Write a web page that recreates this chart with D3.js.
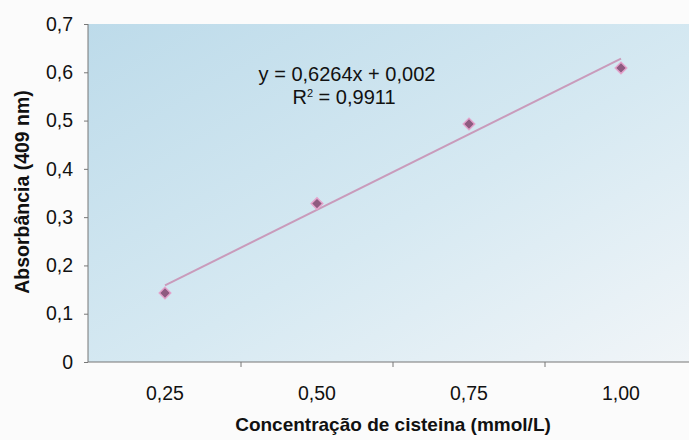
<!DOCTYPE html>
<html>
<head>
  <meta charset="utf-8">
  <script src="https://d3js.org/d3.v7.min.js"></script>
  <style>
    body { margin: 0; background: #fbfbfb; }
    text { font-family: "Liberation Sans", Arial, sans-serif; fill: #111; }
    .axis path, .axis line { stroke: #777; }
  </style>
</head>
<body>
  <svg id="canvas" width="689" height="440"></svg>
<script>
  const categories = ["0,25", "0,50", "0,75", "1,00"];
  const concentrations = [0.25, 0.50, 0.75, 1.00];
  const absorbance = [0.143, 0.328, 0.493, 0.609];
  const yTicks = [0, 0.1, 0.2, 0.3, 0.4, 0.5, 0.6, 0.7];
  const slope = 0.6264, intercept = 0.002;

  const svg = d3.select("svg");
  const plotLeft = 88, plotRight = 689, plotTop = 24, plotBottom = 362;

  const x = d3.scaleBand().domain(categories).range([89, 697]);
  const y = d3.scaleLinear().domain([0, 0.7]).range([plotBottom, plotTop]);

  // plot area gradient
  const grad = svg.append("defs").append("linearGradient")
    .attr("id", "bg").attr("x1", 0).attr("y1", 0).attr("x2", 1).attr("y2", 1);
  grad.append("stop").attr("offset", 0).attr("stop-color", "#bddbea");
  grad.append("stop").attr("offset", 0.55).attr("stop-color", "#d6e9f2");
  grad.append("stop").attr("offset", 1).attr("stop-color", "#f1f5f8");

  svg.append("rect")
    .attr("x", plotLeft).attr("y", plotTop)
    .attr("width", plotRight - plotLeft).attr("height", plotBottom - plotTop)
    .attr("fill", "url(#bg)");

  // y axis
  const yAxis = svg.append("g").attr("class", "axis")
    .attr("transform", `translate(${plotLeft},0)`)
    .call(d3.axisLeft(y).tickValues(yTicks).tickSize(4).tickPadding(11)
      .tickFormat(d => d === 0 ? "0" : d3.format(".1f")(d).replace(".", ",")));
  yAxis.select(".domain").attr("d", `M0,${plotTop}V${plotBottom}`);
  yAxis.selectAll("text").style("font-size", "19.5px");

  // x axis
  const xAxis = svg.append("g").attr("class", "axis")
    .attr("transform", `translate(0,${plotBottom})`);
  xAxis.append("line").attr("x1", plotLeft).attr("x2", plotRight).attr("y1", 0).attr("y2", 0);
  xAxis.selectAll(".xtick").data(categories.slice(1)).join("line")
    .attr("class", "xtick")
    .attr("x1", d => x(d)).attr("x2", d => x(d)).attr("y1", 0).attr("y2", 5);
  xAxis.selectAll(".lbl").data(categories).join("text")
    .attr("class", "lbl")
    .attr("x", d => x(d) + x.bandwidth() / 2).attr("y", 38)
    .attr("text-anchor", "middle").style("font-size", "19.5px")
    .text(d => d);

  // trendline
  const cx = d => x(categories[concentrations.indexOf(d)]) + x.bandwidth() / 2;
  const ends = [concentrations[0], concentrations[concentrations.length - 1]];
  svg.append("line")
    .attr("x1", cx(ends[0])).attr("y1", y(slope * ends[0] + intercept))
    .attr("x2", cx(ends[1])).attr("y2", y(slope * ends[1] + intercept))
    .attr("stroke", "#c99bbb").attr("stroke-width", 2);

  // markers
  const diamond = d3.symbol().type(d3.symbolSquare).size(66);
  svg.selectAll(".pt").data(absorbance).join("path")
    .attr("class", "pt")
    .attr("d", diamond)
    .attr("transform", (d, i) => `translate(${cx(concentrations[i])},${y(d)}) rotate(45)`)
    .attr("fill", "#8f5a80").attr("stroke", "#e3a3cb").attr("stroke-width", 1.5);

  // equation
  svg.append("text").attr("x", 347).attr("y", 81).attr("text-anchor", "middle")
    .style("font-size", "20px").text("y = 0,6264x + 0,002");
  const r2 = svg.append("text").attr("x", 344).attr("y", 104).attr("text-anchor", "middle")
    .style("font-size", "20px");
  r2.append("tspan").text("R");
  r2.append("tspan").attr("dy", -7).style("font-size", "11px").text("2");
  r2.append("tspan").attr("dy", 7).text(" = 0,9911");

  // axis titles
  svg.append("text").attr("x", 393).attr("y", 431).attr("text-anchor", "middle")
    .style("font-size", "19px").style("font-weight", "bold")
    .text("Concentração de cisteina (mmol/L)");
  svg.append("text").attr("transform", "translate(29,192) rotate(-90)")
    .attr("text-anchor", "middle")
    .style("font-size", "19.5px").style("font-weight", "bold")
    .text("Absorbância (409 nm)");
</script>
</body>
</html>
